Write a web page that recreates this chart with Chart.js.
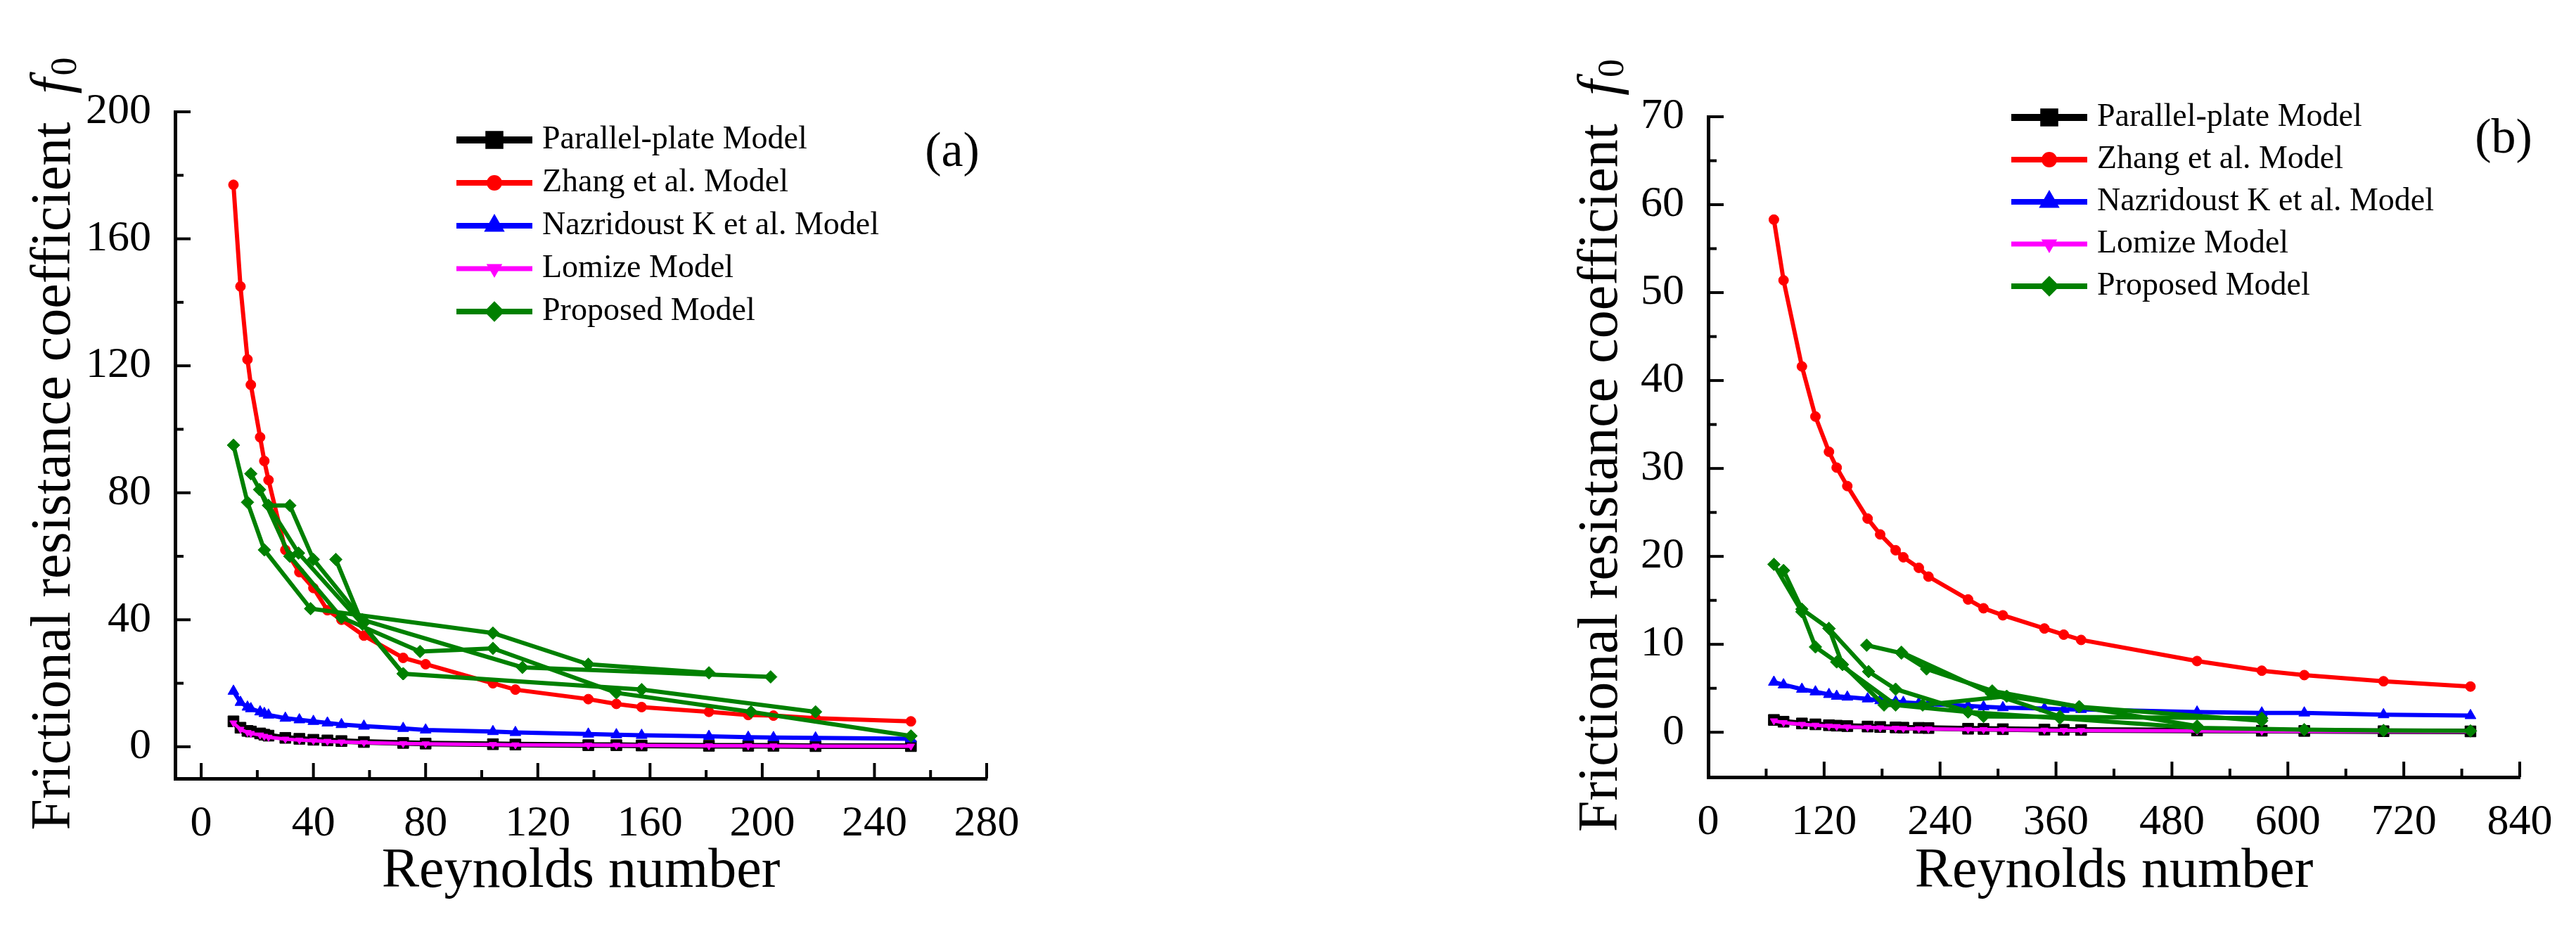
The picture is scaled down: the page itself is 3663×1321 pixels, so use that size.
<!DOCTYPE html>
<html>
<head>
<meta charset="utf-8">
<script src="https://cdn.jsdelivr.net/npm/chart.js@4/dist/chart.umd.min.js"></script>
<style>
  body { margin: 0; background: #fff; }
  canvas { position: absolute; left: 0; top: 0; }
</style>
</head>
<body>
<canvas id="chartA" width="3663" height="1321"></canvas>
<canvas id="chartB" width="3663" height="1321"></canvas>
<script>
// ---- panel (a) data ----
const aRe = [11.5, 14, 16.5, 17.7, 21, 22.5, 24, 30, 35, 40, 45, 50, 58, 72, 80, 104, 112, 138, 148, 157, 181, 195, 204, 219, 253];
const aParallel = [8, 6, 5, 4.8, 4.2, 3.8, 3.5, 2.8, 2.5, 2.2, 2, 1.8, 1.5, 1.2, 1, 0.8, 0.7, 0.5, 0.5, 0.4, 0.3, 0.3, 0.3, 0.2, 0.2];
const aZhang = [177, 145, 122, 114, 97.5, 90, 84, 62, 55, 50, 43, 40, 35, 28, 26, 20, 18, 15, 13.5, 12.5, 11, 10, 9.8, 9, 8];
const aNazridoust = [17.5, 14, 12.5, 12, 11, 10.5, 10, 9, 8.5, 8, 7.5, 7, 6.5, 5.8, 5.3, 4.8, 4.5, 4, 3.8, 3.6, 3.3, 3, 2.9, 2.8, 2.5];
const aLomize = [7.5, 5.5, 4.5, 4.2, 3.7, 3.3, 3, 2.4, 2.1, 1.9, 1.7, 1.5, 1.3, 1, 0.9, 0.7, 0.6, 0.5, 0.45, 0.4, 0.3, 0.3, 0.25, 0.2, 0.2];
// proposed model: several measured runs, points in measured order
const aProposedRe = [
  [11.5, 16.5, 22.5, 39, 104, 138, 181],
  [17.7, 24, 34.7, 57.5, 72, 157, 219],
  [20.8, 31.6, 50, 78, 104, 148, 196, 253],
  [24, 31.6, 40, 57.5, 114.5, 203],
  [48, 57.5, 72]
];
const aProposedF = [
  [95, 77, 62, 43.5, 35.8, 26, 23.3],
  [86, 76, 61, 38.6, 23, 18, 11],
  [81, 60, 40.7, 30, 31, 17, 11, 3.4],
  [76, 76, 59, 40, 25, 22],
  [59, 38.6, 23]
];

// ---- panel (b) data ----
const bRe = [68, 78, 97, 111, 125, 133, 144, 165, 178, 194, 202, 218, 228, 269, 285, 305, 348, 368, 386, 506, 573, 617, 699, 789];
const bParallel = [1.4, 1.2, 1.0, 0.9, 0.8, 0.75, 0.7, 0.65, 0.6, 0.55, 0.52, 0.5, 0.48, 0.4, 0.38, 0.35, 0.3, 0.28, 0.26, 0.2, 0.17, 0.15, 0.12, 0.1];
const bZhang = [58.3, 51.4, 41.6, 35.9, 31.9, 30.1, 28, 24.3, 22.5, 20.7, 19.9, 18.7, 17.7, 15.1, 14.1, 13.3, 11.8, 11.1, 10.5, 8.1, 7.0, 6.5, 5.8, 5.2];
const bNazridoust = [5.7, 5.4, 4.9, 4.6, 4.3, 4.1, 4, 3.8, 3.6, 3.5, 3.4, 3.3, 3.2, 3, 2.9, 2.8, 2.7, 2.6, 2.6, 2.3, 2.2, 2.2, 2.0, 1.9];
const bLomize = [1.3, 1.1, 0.9, 0.8, 0.7, 0.65, 0.6, 0.55, 0.5, 0.45, 0.42, 0.4, 0.38, 0.32, 0.3, 0.28, 0.24, 0.22, 0.2, 0.15, 0.12, 0.1, 0.08, 0.05];
const bProposedRe = [
  [68, 97, 111, 133, 194, 269, 364, 506, 617, 699, 789],
  [78, 97, 125, 166, 194, 285, 573],
  [125, 139, 182, 222, 309, 384, 573],
  [164, 200, 226, 294, 384, 506],
  [200, 293, 364]
];
const bProposedF = [
  [19.1, 13.7, 9.7, 8, 3.1, 2.3, 1.6, 0.5, 0.3, 0.2, 0.15],
  [18.4, 14, 11.8, 6.9, 4.9, 1.8, 1.6],
  [11.8, 7.7, 3.1, 3.1, 4.1, 2.9, 1.3],
  [9.9, 9, 7.2, 4.7, 2.9, 0.7],
  [9.1, 4.4, 1.8]
];

const legendNames = ['Parallel-plate Model', 'Zhang et al. Model', 'Nazridoust K et al. Model', 'Lomize Model', 'Proposed Model'];
const FONT = '"Liberation Serif", "Times New Roman", serif';

const styles = [
  { color: '#000000', pointStyle: 'rect', radius: 11, width: 8, rotation: 0 },
  { color: '#ff0000', pointStyle: 'circle', radius: 7, width: 6, rotation: 0 },
  { color: '#0000ff', pointStyle: 'triangle', radius: 9, width: 6, rotation: 0 },
  { color: '#ff00ff', pointStyle: 'triangle', radius: 6, width: 5, rotation: 180 },
  { color: '#008000', pointStyle: 'rectRot', radius: 9, width: 6, rotation: 0 }
];

function pts(xs, ys) {
  return xs.map((x, i) => ({ x: x, y: ys[i] }));
}

function makeDataset(k, data) {
  const s = styles[k];
  return {
    data: data,
    borderColor: s.color,
    backgroundColor: s.color,
    borderWidth: s.width,
    pointStyle: s.pointStyle,
    pointRadius: s.radius,
    pointRotation: s.rotation,
    pointBorderWidth: 1,
    tension: 0
  };
}

function buildDatasets(re, par, zh, naz, lom, propRe, propF) {
  const ds = [];
  propRe.forEach((xs, i) => ds.push(makeDataset(4, pts(xs, propF[i]))));
  ds.push(makeDataset(3, pts(re, lom)));
  ds.push(makeDataset(2, pts(re, naz)));
  ds.push(makeDataset(1, pts(re, zh)));
  ds.push(makeDataset(0, pts(re, par)));
  return ds;
}

// ticks pointing inward, plus titles, legend and panel label
function decorPlugin(cfg) {
  return {
    id: 'decor',
    afterDraw(chart) {
      const ctx = chart.ctx;
      const xs = chart.scales.x, ys = chart.scales.y;
      const area = chart.chartArea;
      ctx.save();
      ctx.strokeStyle = '#000';
      ctx.lineWidth = 4;
      for (let v = 0; v <= cfg.xMax + 1e-9; v += cfg.xStep / 2) {
        const px = xs.getPixelForValue(v);
        const major = Math.abs(v / cfg.xStep - Math.round(v / cfg.xStep)) < 1e-6;
        ctx.beginPath();
        ctx.moveTo(px, area.bottom);
        ctx.lineTo(px, area.bottom - (major ? 22 : 12));
        ctx.stroke();
      }
      for (let v = 0; v <= cfg.yMax + 1e-9; v += cfg.yStep / 2) {
        const py = ys.getPixelForValue(v);
        const major = Math.abs(v / cfg.yStep - Math.round(v / cfg.yStep)) < 1e-6;
        ctx.beginPath();
        ctx.moveTo(area.left, py);
        ctx.lineTo(area.left + (major ? 22 : 12), py);
        ctx.stroke();
      }

      // x title
      ctx.fillStyle = '#000';
      ctx.font = '80px ' + FONT;
      ctx.textAlign = 'center';
      ctx.textBaseline = 'middle';
      ctx.fillText('Reynolds number', (area.left + area.right) / 2, 1240);

      // y title with italic f and subscript 0
      ctx.save();
      ctx.translate(cfg.yTitleX, (area.top + area.bottom) / 2);
      ctx.rotate(-Math.PI / 2);
      const main = 'Frictional resistance coefficient  ';
      ctx.font = '80px ' + FONT;
      const w1 = ctx.measureText(main).width;
      ctx.font = 'italic 80px ' + FONT;
      const w2 = ctx.measureText('f').width;
      ctx.font = '52px ' + FONT;
      const w3 = ctx.measureText('0').width;
      let x0 = -(w1 + w2 + w3) / 2;
      ctx.textAlign = 'left';
      ctx.textBaseline = 'middle';
      ctx.font = '80px ' + FONT;
      ctx.fillText(main, x0, 0);
      ctx.font = 'italic 80px ' + FONT;
      ctx.fillText('f', x0 + w1, 0);
      ctx.font = '52px ' + FONT;
      ctx.fillText('0', x0 + w1 + w2 + 4, 16);
      ctx.restore();

      // legend
      ctx.font = '46px ' + FONT;
      ctx.textAlign = 'left';
      ctx.textBaseline = 'middle';
      legendNames.forEach((name, i) => {
        const s = styles[i];
        const y = cfg.legY + i * cfg.legGap;
        ctx.strokeStyle = s.color;
        ctx.fillStyle = s.color;
        ctx.lineWidth = s.width + 2;
        ctx.beginPath();
        ctx.moveTo(cfg.legX, y);
        ctx.lineTo(cfg.legX + 108, y);
        ctx.stroke();
        Chart.helpers.drawPoint(ctx, {
          pointStyle: s.pointStyle, radius: s.radius, rotation: s.rotation, borderWidth: 1
        }, cfg.legX + 54, y);
        ctx.fillStyle = '#000';
        ctx.fillText(name, cfg.legX + 122, y);
      });

      ctx.font = '70px ' + FONT;
      ctx.textAlign = 'center';
      ctx.fillText(cfg.label, cfg.labelX, cfg.labelY);
      ctx.restore();
    }
  };
}

function makeChart(id, datasets, cfg) {
  return new Chart(document.getElementById(id), {
    type: 'line',
    data: { datasets: datasets },
    options: {
      responsive: false,
      animation: false,
      layout: { padding: { left: cfg.left - 249 < 0 ? 0 : cfg.left - 249, top: cfg.top, right: 3663 - cfg.right, bottom: 0 } },
      plugins: { legend: { display: false }, tooltip: { enabled: false } },
      scales: {
        x: {
          type: 'linear',
          min: cfg.xMin, max: cfg.xMax,
          grid: { display: false },
          border: { display: true, color: '#000', width: 5 },
          afterBuildTicks: s => { s.ticks = []; for (let v = 0; v <= cfg.xMax; v += cfg.xStep) s.ticks.push({ value: v }); },
          afterFit: s => { s.height = 1321 - cfg.bottom; },
          ticks: { color: '#000', padding: 20, maxRotation: 0, font: { family: FONT, size: 62 } }
        },
        y: {
          type: 'linear',
          min: cfg.yMin, max: cfg.yMax,
          grid: { display: false },
          border: { display: true, color: '#000', width: 5 },
          afterBuildTicks: s => { s.ticks = []; for (let v = 0; v <= cfg.yMax; v += cfg.yStep) s.ticks.push({ value: v }); },
          afterFit: s => { s.width = 249; },
          ticks: { color: '#000', padding: 26, font: { family: FONT, size: 62 } }
        }
      }
    },
    plugins: [decorPlugin(cfg)]
  });
}

makeChart('chartA', buildDatasets(aRe, aParallel, aZhang, aNazridoust, aLomize, aProposedRe, aProposedF), {
  left: 249, right: 1403, top: 159, bottom: 1107,
  xMin: -9.3, xMax: 280, xStep: 40, yMin: -10, yMax: 200, yStep: 40,
  yTitleX: 78, legX: 649, legY: 199, legGap: 61, label: '(a)', labelX: 1354, labelY: 218
});

makeChart('chartB', buildDatasets(bRe, bParallel, bZhang, bNazridoust, bLomize, bProposedRe, bProposedF), {
  left: 2429, right: 3583, top: 166, bottom: 1105,
  xMin: 0, xMax: 840, xStep: 120, yMin: -5.1, yMax: 70, yStep: 10,
  yTitleX: 2278, legX: 2860, legY: 167, legGap: 60, label: '(b)', labelX: 3560, labelY: 199
});
</script>
</body>
</html>
